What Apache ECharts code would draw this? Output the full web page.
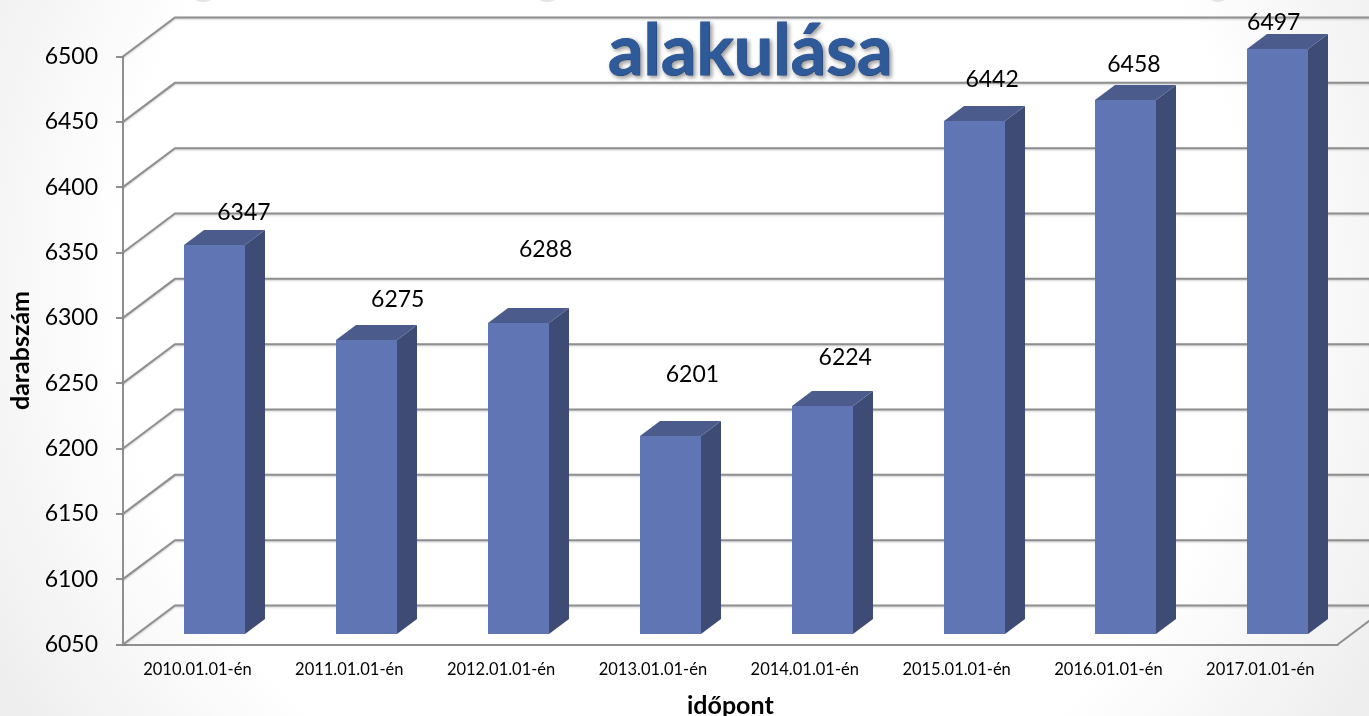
<!DOCTYPE html>
<html>
<head>
<meta charset="utf-8">
<style>
  html, body { margin: 0; padding: 0; overflow: hidden; background: #fff; }
  #chart { width: 1369px; height: 716px; }
</style>
<script src="https://cdn.jsdelivr.net/npm/echarts@6/dist/echarts.min.js"></script>
</head>
<body>
<div id="chart"></div>
<script>
const categories = ['2010.01.01-én', '2011.01.01-én', '2012.01.01-én', '2013.01.01-én', '2014.01.01-én', '2015.01.01-én', '2016.01.01-én', '2017.01.01-én']
const values = [6347, 6275, 6288, 6201, 6224, 6442, 6458, 6497]
const yTicks = [6050, 6100, 6150, 6200, 6250, 6300, 6350, 6400, 6450, 6500]
// hand placed labels in the original, [dx, dy] from the bar's band centre
const labelShift = [[45, -44], [47, -51], [43, -84], [38, -73], [39, -60], [34, -53], [24, -47], [12, -38]]

const FONT = 'Lato'
const GRID_COLOR = '#8f8f8f'
// depth of the fake 3d walls and of the bars
const WALL_DX = 52
const WALL_DY = -39
const BAR_DX = 20
const BAR_DY = -15
// bars stand a bit in front of the back wall
const BAR_SHIFT_X = 16
const BAR_SHIFT_Y = -11

function renderWall(params, api) {
  const y = api.coord([0, api.value(1)])[1]
  const x0 = params.coordSys.x
  const x1 = x0 + params.coordSys.width
  return {
    type: 'polyline',
    shape: { points: [[x0, y], [x0 + WALL_DX, y + WALL_DY], [x1 + WALL_DX, y + WALL_DY]] },
    style: {
      fill: null,
      stroke: GRID_COLOR,
      lineWidth: 2,
      shadowColor: 'rgba(0, 0, 0, 0.2)',
      shadowBlur: 2,
      shadowOffsetY: 1
    }
  }
}

function renderFloorEdge(params, api) {
  const y = api.coord([0, yTicks[0]])[1]
  const x = params.coordSys.x + params.coordSys.width
  return {
    type: 'line',
    shape: { x1: x, y1: y, x2: x + WALL_DX, y2: y + WALL_DY },
    style: { stroke: GRID_COLOR, lineWidth: 2 }
  }
}

function renderBar(params, api) {
  const top = api.coord([api.value(0), api.value(1)])
  const base = api.coord([api.value(0), yTicks[0]])
  const w = Math.round(api.size([1, 0])[0] * 0.4)
  const l = Math.round(top[0] - w / 2 + BAR_SHIFT_X)
  const r = l + w
  const t = Math.round(top[1] + BAR_SHIFT_Y)
  const b = Math.round(base[1] + BAR_SHIFT_Y)
  return {
    type: 'group',
    children: [
      {
        type: 'polygon',
        shape: { points: [[r, t], [r + BAR_DX, t + BAR_DY], [r + BAR_DX, b + BAR_DY], [r, b]] },
        style: { fill: '#3e4b75' }
      },
      {
        type: 'polygon',
        shape: { points: [[l, t], [l + BAR_DX, t + BAR_DY], [r + BAR_DX, t + BAR_DY], [r, t]] },
        style: { fill: '#4a5b8c' }
      },
      {
        type: 'rect',
        shape: { x: l, y: t, width: w, height: b - t },
        style: { fill: '#6076b4' }
      }
    ]
  }
}

const myChart = echarts.init(document.getElementById('chart'))
myChart.setOption({
  animation: false,
  backgroundColor: {
    type: 'radial',
    x: 0.5,
    y: 0.4,
    r: 1.1,
    colorStops: [
      { offset: 0, color: '#ffffff' },
      { offset: 0.72, color: '#ffffff' },
      { offset: 1, color: '#eeeeee' }
    ]
  },
  // faint remains of shapes cut off by the top edge
  graphic: [
    { type: 'circle', shape: { cx: 203, cy: -14, r: 16 }, style: { fill: '#e4e4e4' }, silent: true },
    { type: 'circle', shape: { cx: 547, cy: -14, r: 16 }, style: { fill: '#e4e4e4' }, silent: true },
    { type: 'circle', shape: { cx: 1218, cy: -12, r: 14 }, style: { fill: '#e4e4e4' }, silent: true }
  ],
  title: {
    text: 'alakulása',
    left: 603,
    top: 12,
    z: 6,
    textStyle: {
      fontFamily: FONT,
      fontSize: 70,
      fontWeight: 'bold',
      color: '#2e5a99',
      textBorderColor: '#2e5a99',
      textBorderWidth: 1,
      textShadowColor: 'rgba(0, 0, 0, 0.4)',
      textShadowBlur: 4,
      textShadowOffsetX: 2,
      textShadowOffsetY: 2
    }
  },
  grid: {
    left: 123,
    width: 1214.7,
    top: 56.5,
    height: 588,
    outerBoundsMode: 'none'
  },
  xAxis: {
    type: 'category',
    data: categories,
    name: 'időpont',
    nameLocation: 'middle',
    nameGap: 49,
    nameTextStyle: { fontFamily: FONT, fontSize: 25, fontWeight: 'bold', color: '#000' },
    axisLine: { lineStyle: { color: GRID_COLOR, width: 2 } },
    axisTick: { show: false },
    axisLabel: { fontFamily: FONT, fontSize: 16.5, color: '#000', margin: 17, interval: 0, padding: [0, 3, 0, 0] }
  },
  yAxis: {
    type: 'value',
    min: yTicks[0],
    max: yTicks[yTicks.length - 1],
    interval: 50,
    name: 'darabszám',
    nameLocation: 'middle',
    nameGap: 88,
    nameRotate: 90,
    nameTextStyle: { fontFamily: FONT, fontSize: 25, fontWeight: 'bold', color: '#000' },
    splitLine: { show: false },
    axisLine: { show: true, lineStyle: { color: GRID_COLOR, width: 2 } },
    axisTick: { show: true, length: 7, lineStyle: { color: GRID_COLOR, width: 2 } },
    axisLabel: { fontFamily: FONT, fontSize: 23, color: '#000', margin: 25, padding: [4, 0, 0, 0], formatter: v => String(v) }
  },
  series: [
    {
      type: 'custom',
      z: 1,
      silent: true,
      renderItem: renderWall,
      data: yTicks.map(v => [0, v])
    },
    {
      type: 'custom',
      z: 1,
      silent: true,
      renderItem: renderFloorEdge,
      data: [[0, yTicks[0]]]
    },
    {
      type: 'custom',
      z: 3,
      renderItem: renderBar,
      data: values.map((v, i) => [i, v])
    },
    {
      // carries only the value labels
      type: 'scatter',
      z: 5,
      symbolSize: 0,
      silent: true,
      label: {
        show: true,
        position: 'inside',
        formatter: p => String(p.value[1]),
        fontFamily: FONT,
        fontSize: 23,
        color: '#000000',
        opacity: 1
      },
      data: values.map((v, i) => ({
        value: [i, v],
        label: { offset: labelShift[i] }
      }))
    }
  ]
})
</script>
</body>
</html>
